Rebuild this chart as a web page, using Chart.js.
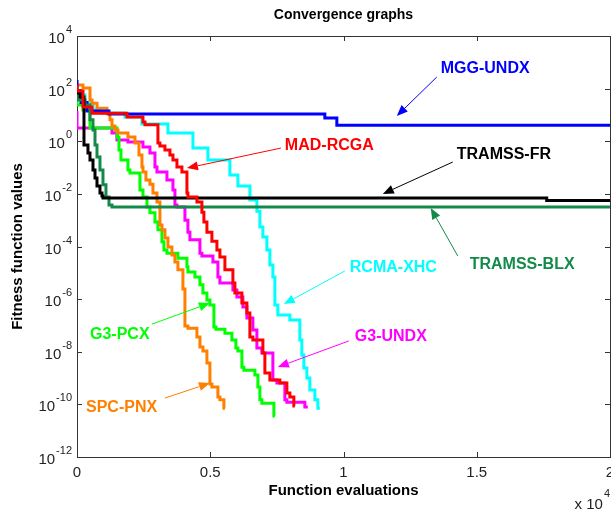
<!DOCTYPE html>
<html>
<head>
<meta charset="utf-8">
<script src="https://cdn.jsdelivr.net/npm/chart.js@4.4.0/dist/chart.umd.min.js"></script>
<style>
html,body{margin:0;padding:0;background:#fff;}
canvas{display:block;}
</style>
</head>
<body>
<canvas id="c" width="611" height="511"></canvas>
<script>
// ---- Data (function evaluations vs. best fitness) ----
const madRcgaX = [0,225,562,1875,2475,2550,3037,3112,3300,3487,3600,3750,3937,4125,4162,4500,4687,4762,4875,5062,5250,5362,5550,5850,5925,6187,6375,6487,6600,6975,7050,7237,7612,7875,7987,8137,8175];
const madRcgaY = [137,81,20,11.7,8.3,5.4,4.2,0.85,0.66,0.47,0.30,0.195,0.105,0.068,0.0107,7.6e-3,4.9e-3,2.0e-3,8.5e-4,3.5e-4,1.6e-4,7.4e-5,4.0e-5,1.3e-5,4.1e-6,1.7e-6,7.1e-7,3.0e-7,3.6e-8,2.8e-8,8.9e-9,1.55e-9,8.5e-10,6.5e-10,2.7e-10,1.9e-10,8.7e-11];

const g3UndxX = [0,1312,1500,1912,2475,2737,2925,3000,3375,3600,3675,3750,4050,4162,4237,4612,4687,5100,5287,5362,5850,6000,6225,6375,6600,6750,6937,7350,7500,7800,7875,8550,8662];
const g3UndxY = [14,3.2,2.05,1.12,0.93,0.60,0.355,0.105,0.068,0.034,0.014,3.8e-3,3.2e-3,1.0e-3,3.5e-4,1.8e-4,5.6e-5,4.4e-5,2.6e-5,6.9e-6,4.1e-6,2.2e-6,1.2e-6,5.0e-7,1.9e-7,6.7e-8,1.4e-8,8.9e-9,8.5e-10,6.5e-10,1.5e-10,1.2e-10,7.9e-11];

const rcmaXhcX = [0,300,600,862,1800,2437,3412,4350,4912,5737,6037,6487,6750,6862,6975,7125,7237,7350,7425,7537,7987,8362,8437,8512,8625,8737,8925,9037,9112];
const rcmaXhcY = [137,57,28,15.5,11.8,8.3,4.5,2.05,0.55,0.195,0.052,0.020,5.9e-3,2.2e-3,5.5e-4,2.3e-4,7.4e-5,2.0e-5,6.9e-6,6.0e-7,2.5e-7,1.6e-7,2.8e-8,7.6e-9,2.4e-9,1.0e-9,3.5e-10,1.5e-10,7.2e-11];

const g3PcxX = [0,225,487,1500,1575,1650,1912,1987,2362,2475,2625,2737,2925,3037,3187,3262,3375,3787,4125,4162,4425,4612,4725,4875,4987,5137,5212,5550,5812,5962,6037,6187,6262,6675,6787,6862,6937,7387,7425];
const g3PcxY = [74,24,15.5,3.2,1.45,0.47,0.195,0.081,0.062,0.014,7.6e-3,3.2e-3,1.9e-3,8.5e-4,4.3e-4,1.5e-4,7.4e-5,5.6e-5,3.6e-5,1.7e-5,1.07e-5,6.9e-6,3.5e-6,1.7e-6,9.3e-7,6.0e-7,8.7e-8,7.2e-8,5.1e-8,2.8e-8,1.4e-8,1.07e-8,2.6e-9,2.0e-9,1.3e-9,4.6e-10,1.5e-10,1.1e-10,3.6e-11];

const spcPnxX = [0,225,487,562,750,1125,1237,1312,1425,1537,1912,2175,2325,2437,2475,2587,2737,2850,3000,3112,3187,3300,3412,3562,3675,3787,3975,4050,4162,4500,4612,4725,4875,4987,5062,5287,5362,5512,5550];
const spcPnxY = [162,137,105,37,28,18,11,6.5,3.8,2.7,2.05,1.45,0.85,0.30,0.105,0.068,0.034,0.023,0.0107,4.9e-3,6.6e-4,4.3e-4,2.1e-4,9.5e-5,4.8e-5,2.6e-5,1.3e-5,2.4e-6,9.5e-8,7.9e-8,3.6e-8,1.5e-8,1.07e-8,3.7e-9,5.9e-10,4.6e-10,1.9e-10,1.5e-10,7.2e-11];

const mggUndxX = [0,150,375,1200,9300,9750,14325,20000];
const mggUndxY = [215,70,30,14,10.8,7.6,4.1,4.1];

const tramssFrX = [0,112,262,412,487,600,675,750,862,937,975,17625,19950,20000];
const tramssFrY = [81,68,48,0.72,0.355,0.195,0.081,0.040,0.020,0.0107,8.3e-3,6.9e-3,5.6e-3,5.6e-3];

const tramssBlxX = [0,300,487,600,675,750,862,975,1087,1200,1312,1387,20000];
const tramssBlxY = [74,37,24,6.5,2.7,0.72,0.25,0.081,0.022,7.6e-3,3.8e-3,3.2e-3,3.2e-3];

const yTickExponents = [-12,-10,-8,-6,-4,-2,0,2,4];
const xTickValues = [0,5000,10000,15000,20000];
const xTickLabels = ['0','0.5','1','1.5','2'];

// Series definitions (drawn top-most first)
const series = [
  {name:'MAD-RCGA',   color:'#ff0000', xs:madRcgaX,   ys:madRcgaY},
  {name:'TRAMSS-FR',  color:'#000000', xs:tramssFrX,  ys:tramssFrY},
  {name:'TRAMSS-BLX', color:'#138a4a', xs:tramssBlxX, ys:tramssBlxY},
  {name:'MGG-UNDX',   color:'#0000ff', xs:mggUndxX,   ys:mggUndxY},
  {name:'SPC-PNX',    color:'#ff8000', xs:spcPnxX,    ys:spcPnxY},
  {name:'G3-PCX',     color:'#00ff00', xs:g3PcxX,     ys:g3PcxY},
  {name:'G3-UNDX',    color:'#ff00ff', xs:g3UndxX,    ys:g3UndxY},
  {name:'RCMA-XHC',   color:'#00ffff', xs:rcmaXhcX,   ys:rcmaXhcY}
];

// Annotation labels and arrows, positions in data space (x: evaluations, y: log10 exponent)
const notes = [
  {text:'MGG-UNDX',   color:'#0000ff', tx:13650, te:2.77,   ax:13500, ae:2.44,  bx:12000, be:0.96},
  {text:'MAD-RCGA',   color:'#ff0000', tx:7800,  te:-0.18,  ax:7650,  ae:-0.26, bx:4125,  be:-1.02},
  {text:'TRAMSS-FR',  color:'#000000', tx:14250, te:-0.52,  ax:14100, ae:-0.79, bx:11475, be:-2.0},
  {text:'TRAMSS-BLX', color:'#138a4a', tx:14737, te:-4.70,  ax:14287, ae:-4.36, bx:13275, be:-2.54},
  {text:'RCMA-XHC',   color:'#00ffff', tx:10237, te:-4.82,  ax:10050, ae:-4.93, bx:7762,  be:-6.19},
  {text:'G3-UNDX',    color:'#ff00ff', tx:10425, te:-7.44,  ax:10200, ae:-7.59, bx:7537,  be:-8.58},
  {text:'G3-PCX',     color:'#00ff00', tx:487,   te:-7.36,  ax:2812,  ae:-6.95, bx:4987,  be:-6.15},
  {text:'SPC-PNX',    color:'#ff8000', tx:337,   te:-10.14, ax:3300,  ae:-9.76, bx:4987,  be:-9.19}
];

const FONT = "Arial, 'Liberation Sans', sans-serif";

const datasets = series.map(s => ({
  label: s.name,
  data: s.xs.map((x, i) => ({x: x, y: s.ys[i]})),
  borderColor: s.color,
  backgroundColor: s.color,
  borderWidth: 3,
  pointRadius: 0,
  fill: false,
  stepped: 'after'
}));

const framePlugin = {
  id: 'frame',
  beforeDatasetsDraw(chart) {
    const {ctx, chartArea: a, scales: {x, y}} = chart;
    ctx.save();
    ctx.strokeStyle = '#333';
    ctx.lineWidth = 1;
    ctx.strokeRect(a.left + 0.5, a.top + 0.5, a.right - a.left, a.bottom - a.top);
    ctx.beginPath();
    yTickExponents.forEach(e => {
      const py = Math.round(y.getPixelForValue(Math.pow(10, e))) + 0.5;
      ctx.moveTo(a.left, py); ctx.lineTo(a.left + 5, py);
      ctx.moveTo(a.right, py); ctx.lineTo(a.right - 5, py);
    });
    xTickValues.forEach(v => {
      const px = Math.round(x.getPixelForValue(v)) + 0.5;
      ctx.moveTo(px, a.bottom); ctx.lineTo(px, a.bottom - 5);
      ctx.moveTo(px, a.top); ctx.lineTo(px, a.top + 5);
    });
    ctx.stroke();

    // Y tick labels 10^e
    ctx.fillStyle = '#222';
    ctx.textBaseline = 'alphabetic';
    yTickExponents.forEach(e => {
      const py = y.getPixelForValue(Math.pow(10, e));
      const exp = String(e);
      ctx.font = '11px ' + FONT;
      const we = ctx.measureText(exp).width;
      const right = a.left - 5;
      ctx.textAlign = 'left';
      ctx.fillText(exp, right - we, py - 3);
      ctx.font = '15px ' + FONT;
      ctx.textAlign = 'right';
      ctx.fillText('10', right - we - 1, py + 7);
    });
    // X tick labels
    ctx.font = '15px ' + FONT;
    ctx.textAlign = 'center';
    xTickValues.forEach((v, i) => {
      const px = x.getPixelForValue(v);
      ctx.fillText(xTickLabels[i], px, a.bottom + 20);
    });
    // x 10^4 multiplier
    ctx.textAlign = 'right';
    ctx.font = '11px ' + FONT;
    const w4 = ctx.measureText('4').width;
    ctx.textAlign = 'left';
    ctx.fillText('4', 611 - w4 - 1, 497);
    ctx.font = '15px ' + FONT;
    ctx.textAlign = 'right';
    ctx.fillText('x 10', 611 - w4 - 2, 509);

    // Titles
    ctx.fillStyle = '#000';
    ctx.textAlign = 'center';
    ctx.textBaseline = 'middle';
    ctx.font = 'bold 14px ' + FONT;
    ctx.fillText('Convergence graphs', (a.left + a.right) / 2, 15);
    ctx.font = 'bold 15px ' + FONT;
    ctx.fillText('Function evaluations', (a.left + a.right) / 2, 491);
    ctx.save();
    ctx.translate(18, (a.top + a.bottom) / 2);
    ctx.rotate(-Math.PI / 2);
    ctx.fillText('Fitness function values', 0, 0);
    ctx.restore();
    ctx.restore();
  },
  afterDatasetsDraw(chart) {
    const {ctx, scales: {x, y}} = chart;
    ctx.save();
    notes.forEach(n => {
      const ax = x.getPixelForValue(n.ax), ay = y.getPixelForValue(Math.pow(10, n.ae));
      const bx = x.getPixelForValue(n.bx), by = y.getPixelForValue(Math.pow(10, n.be));
      ctx.strokeStyle = n.color;
      ctx.fillStyle = n.color;
      ctx.lineWidth = 1;
      const ang = Math.atan2(by - ay, bx - ax);
      const hl = 11, hw = 4.5;
      const baseX = bx - hl * Math.cos(ang), baseY = by - hl * Math.sin(ang);
      ctx.beginPath();
      ctx.moveTo(ax, ay); ctx.lineTo(baseX, baseY);
      ctx.stroke();
      ctx.beginPath();
      ctx.moveTo(bx, by);
      ctx.lineTo(baseX + hw * Math.sin(ang), baseY - hw * Math.cos(ang));
      ctx.lineTo(baseX - hw * Math.sin(ang), baseY + hw * Math.cos(ang));
      ctx.closePath();
      ctx.fill();
      const tx = x.getPixelForValue(n.tx), ty = y.getPixelForValue(Math.pow(10, n.te));
      ctx.font = 'bold 16px ' + FONT;
      ctx.textAlign = 'left';
      ctx.textBaseline = 'middle';
      ctx.fillText(n.text, tx, ty);
    });
    ctx.restore();
  }
};

new Chart(document.getElementById('c'), {
  type: 'line',
  data: {datasets: datasets},
  options: {
    responsive: false,
    animation: false,
    devicePixelRatio: 1,
    layout: {padding: {left: 77, right: 1, top: 36, bottom: 54}},
    plugins: {legend: {display: false}, tooltip: {enabled: false}, title: {display: false}},
    scales: {
      x: {type: 'linear', min: 0, max: 20000, display: false},
      y: {type: 'logarithmic', min: 1e-12, max: 1e4, display: false}
    }
  },
  plugins: [framePlugin]
});
</script>
</body>
</html>
